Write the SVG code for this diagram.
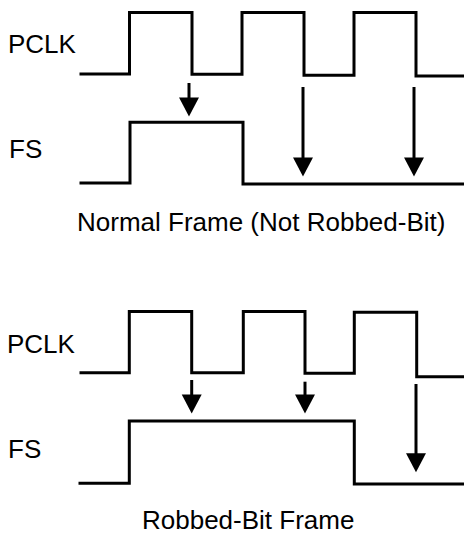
<svg xmlns="http://www.w3.org/2000/svg" width="464" height="535" viewBox="0 0 464 535">
<style>
.wave{fill:none;stroke:#000;stroke-width:3;stroke-linejoin:miter;stroke-linecap:square}
.arr{fill:none;stroke:#000;stroke-width:3}
.lbl{font-family:"Liberation Sans",Arial,sans-serif;font-size:26px;fill:#000}
</style>
<defs>
<marker id="ah" markerUnits="userSpaceOnUse" markerWidth="20" markerHeight="21" viewBox="0 0 18 20" refX="8" refY="10" orient="auto">
<path d="M0,0.5 L18,10 L0,19.5 z" fill="#000"/>
</marker>
</defs>
<rect width="464" height="535" fill="#fff"/>
<g id="normal-frame">
<text class="lbl" x="8" y="53">PCLK</text>
<text class="lbl" x="9" y="158">FS</text>
<path id="pclk1" class="wave" d="M81,74 H129.5 V12.5 H192 V74.3 H242 V12.5 H304 V75.3 H354 V12.5 H416 V76 H465"/>
<path id="fs1" class="wave" d="M81,183 H130 V122.3 H243 V184 H465"/>
<text class="lbl" x="77" y="231">Normal Frame (Not Robbed-Bit)</text>
</g>
<g id="robbed-frame">
<text class="lbl" x="7" y="353">PCLK</text>
<text class="lbl" x="8" y="458">FS</text>
<path id="pclk2" class="wave" d="M81,372.7 H129.3 V311.5 H191.7 V372.7 H243.3 V311.5 H305 V373.3 H354.3 V312.3 H416.7 V376.7 H465"/>
<path id="fs2" class="wave" d="M80,483.3 H129.3 V421 H354.3 V484 H465"/>
<text class="lbl" x="142" y="529">Robbed-Bit Frame</text>
</g>
<g id="connectors">
<line class="arr" x1="189" y1="83" x2="189" y2="106" marker-end="url(#ah)"/>
<line class="arr" x1="303" y1="87" x2="303" y2="166" marker-end="url(#ah)"/>
<line class="arr" x1="414" y1="87" x2="414" y2="166" marker-end="url(#ah)"/>
<line class="arr" x1="191.7" y1="380" x2="191.7" y2="403" marker-end="url(#ah)"/>
<line class="arr" x1="305" y1="381.7" x2="305" y2="403" marker-end="url(#ah)"/>
<line class="arr" x1="416" y1="384" x2="416" y2="461.7" marker-end="url(#ah)"/>
</g>
</svg>
